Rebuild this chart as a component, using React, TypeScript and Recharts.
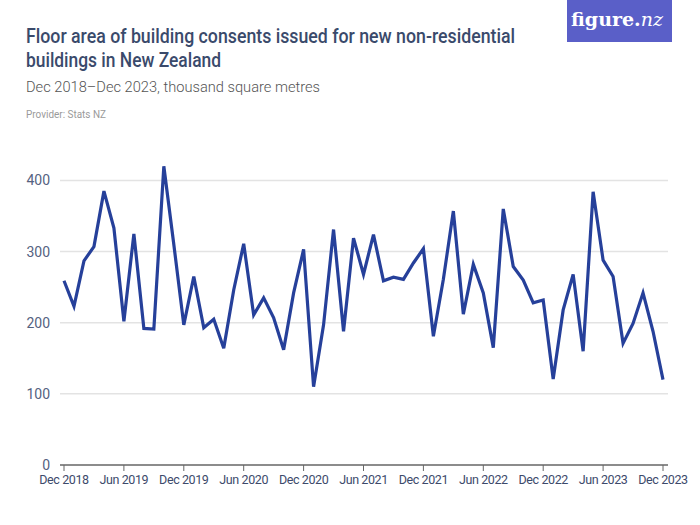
import React from "react";
import { CartesianGrid, Line, LineChart, XAxis, YAxis } from "recharts";

// monthly, Dec 2018 – Dec 2023
const MONTHS = [
  "Dec 2018",
  "Jan 2019", "Feb 2019", "Mar 2019", "Apr 2019", "May 2019", "Jun 2019",
  "Jul 2019", "Aug 2019", "Sep 2019", "Oct 2019", "Nov 2019", "Dec 2019",
  "Jan 2020", "Feb 2020", "Mar 2020", "Apr 2020", "May 2020", "Jun 2020",
  "Jul 2020", "Aug 2020", "Sep 2020", "Oct 2020", "Nov 2020", "Dec 2020",
  "Jan 2021", "Feb 2021", "Mar 2021", "Apr 2021", "May 2021", "Jun 2021",
  "Jul 2021", "Aug 2021", "Sep 2021", "Oct 2021", "Nov 2021", "Dec 2021",
  "Jan 2022", "Feb 2022", "Mar 2022", "Apr 2022", "May 2022", "Jun 2022",
  "Jul 2022", "Aug 2022", "Sep 2022", "Oct 2022", "Nov 2022", "Dec 2022",
  "Jan 2023", "Feb 2023", "Mar 2023", "Apr 2023", "May 2023", "Jun 2023",
  "Jul 2023", "Aug 2023", "Sep 2023", "Oct 2023", "Nov 2023", "Dec 2023",
];

// thousand square metres
const FLOOR_AREA = [
  259,
  223, 287, 307, 385, 333, 202,
  325, 192, 191, 420, 310, 197,
  265, 193, 205, 164, 246, 311,
  211, 235, 207, 162, 242, 303,
  110, 197, 331, 188, 319, 268,
  324, 259, 264, 261, 284, 304,
  181, 261, 357, 212, 282, 242,
  165, 360, 279, 260, 228, 232,
  121, 218, 268, 160, 384, 288,
  265, 171, 199, 242, 188, 120,
];

const Y_TICKS = [0, 100, 200, 300, 400];
const GRID_VALUES = [100, 200, 300, 400];

const data = MONTHS.map((month, i) => ({ month, value: FLOOR_AREA[i] }));

const YTick = ({ y, payload }: { y?: number; payload?: { value: number } }) => (
  <text
    x={50}
    y={y}
    dy={5}
    textAnchor="end"
    fontFamily="Roboto, sans-serif"
    fontSize={14}
    fill="#55627f"
  >
    {payload?.value}
  </text>
);

export default function App() {
  return (
    <div
      style={{
        position: "fixed",
        left: 0,
        top: 0,
        width: 700,
        height: 525,
        background: "#fff",
      }}
    >
      <LineChart
        width={700}
        height={525}
        data={data}
        margin={{ top: 152, right: 32, bottom: 30, left: 20 }}
      >
        <CartesianGrid
          vertical={false}
          horizontalValues={GRID_VALUES}
          stroke="#e3e3e3"
          strokeWidth={1.5}
        />
        <XAxis
          dataKey="month"
          interval={5}
          height={30}
          padding={{ left: 4, right: 5 }}
          axisLine={{ stroke: "#666", strokeWidth: 1.5 }}
          tickLine={{ stroke: "#666" }}
          tickSize={6}
          tickMargin={4}
          tick={{
            fill: "#3d4a6b",
            fontSize: 12.5,
            fontFamily: "Roboto, sans-serif",
            letterSpacing: -0.4,
          }}
        />
        <YAxis
          width={40}
          domain={[0, 440]}
          ticks={Y_TICKS}
          axisLine={false}
          tickLine={false}
          tick={<YTick />}
        />
        <Line
          type="linear"
          dataKey="value"
          stroke="#26409a"
          strokeWidth={3.2}
          dot={false}
          activeDot={false}
          isAnimationActive={false}
        />
      </LineChart>
      <svg
        width={700}
        height={140}
        style={{ position: "absolute", left: 0, top: 0, pointerEvents: "none" }}
      >
        <text
          x={26}
          y={43}
          fontFamily="Roboto, sans-serif"
          fontWeight={500}
          fontSize={20}
          fill="#3a4a6b"
          textLength={489}
          lengthAdjust="spacingAndGlyphs"
        >
          Floor area of building consents issued for new non-residential
        </text>
        <text
          x={26}
          y={67}
          fontFamily="Roboto, sans-serif"
          fontWeight={500}
          fontSize={20}
          fill="#3a4a6b"
          textLength={195}
          lengthAdjust="spacingAndGlyphs"
        >
          buildings in New Zealand
        </text>
        <text
          x={26}
          y={92}
          fontFamily="Roboto, sans-serif"
          fontWeight={300}
          fontSize={15.5}
          fill="#555"
          textLength={294}
          lengthAdjust="spacingAndGlyphs"
        >
          Dec 2018–Dec 2023, thousand square metres
        </text>
        <text
          x={26}
          y={117.5}
          fontFamily="Roboto, sans-serif"
          fontSize={10}
          fill="#9a9a9a"
          textLength={80}
          lengthAdjust="spacingAndGlyphs"
        >
          Provider: Stats NZ
        </text>
        <rect x={567} y={0} width={105} height={42} fill="#5a5fc8" />
        <text
          x={617}
          y={26}
          textAnchor="middle"
          fill="#fff"
          fontSize={19}
          fontFamily="'DejaVu Serif', serif"
        >
          <tspan fontWeight={700}>figure.</tspan>
          <tspan fontStyle="italic">nz</tspan>
        </text>
      </svg>
    </div>
  );
}
